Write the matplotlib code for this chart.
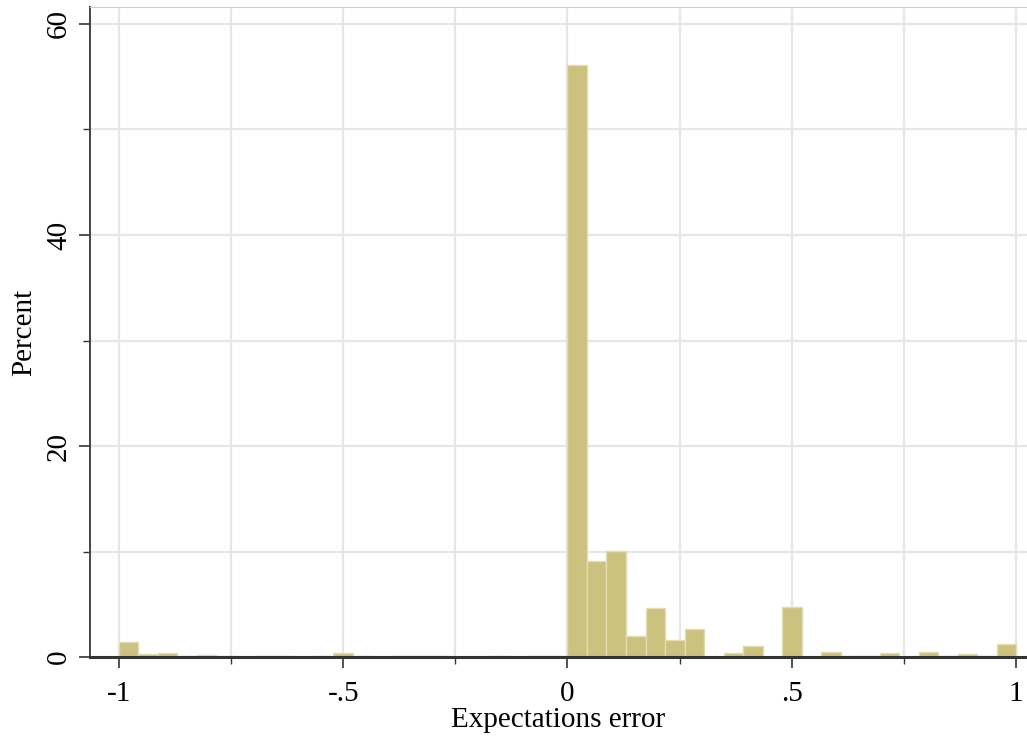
import numpy as np
import matplotlib
matplotlib.use("Agg")
import matplotlib.pyplot as plt
from matplotlib.ticker import MultipleLocator, FixedLocator

# histogram of expectations error, 46 bins over [-1, 1]
bin_lo = -1.0
bin_hi = 1.0
percent = [1.4, 0.25, 0.35, 0.1, 0.2, 0.1, 0.05, 0.15, 0.1, 0.0,
           0.1, 0.35, 0.1, 0.0, 0.1, 0.1, 0.1, 0.0, 0.0, 0.1,
           0.05, 0.1, 0.1, 56.1, 9.1, 10.1, 2.0, 4.7, 1.6, 2.7,
           0.0, 0.35, 1.05, 0.0, 4.75, 0.05, 0.5, 0.1, 0.1, 0.35,
           0.0, 0.5, 0.1, 0.3, 0.1, 1.2]
xticks = [-1, -0.5, 0, 0.5, 1]
xticklabels = ["-1", "-.5", "0", ".5", "1"]
yticks = [0, 20, 40, 60]

plt.rcParams['font.family'] = ['Liberation Serif', 'DejaVu Serif']

fig = plt.figure(figsize=(10.27, 7.40), dpi=100)
ax = fig.add_axes([0.0876, 0.112, 0.9124, 0.8785])

edges = np.linspace(bin_lo, bin_hi, len(percent) + 1)
ax.bar(edges[:-1], percent, width=np.diff(edges), align='edge',
       color='#cbc27f', edgecolor='#e2ddb0', linewidth=1.0, zorder=2)

ax.set_xlim(-1.0647, 1.0245)
ax.set_ylim(0, 61.6)

ax.xaxis.set_major_locator(FixedLocator(xticks))
ax.set_xticklabels(xticklabels)
ax.xaxis.set_minor_locator(MultipleLocator(0.25))
ax.yaxis.set_major_locator(FixedLocator(yticks))
ax.yaxis.set_minor_locator(MultipleLocator(10))
ax.set_yticklabels([str(v) for v in yticks], rotation=90, va='center')

ax.grid(True, which='both', color='#e6e6e6', linewidth=1.6, zorder=0)
ax.set_axisbelow(True)

ax.tick_params(axis='both', which='major', length=8, width=1.2,
               color='#333333', labelsize=21)
ax.tick_params(axis='x', which='major', pad=9)
ax.tick_params(axis='y', which='major', pad=5)
ax.tick_params(axis='both', which='minor', length=5, width=1.0,
               color='#333333')

ax.spines['right'].set_visible(False)
ax.spines['top'].set_color('#cccccc')
ax.spines['left'].set_color('#444444')
ax.spines['left'].set_linewidth(1.4)
ax.spines['bottom'].set_color('#333333')
ax.spines['bottom'].set_linewidth(2.2)
ax.spines['bottom'].set_zorder(3)

ax.set_xlabel('Expectations error', fontsize=21, labelpad=0)
ax.set_ylabel('Percent', fontsize=21, labelpad=6)

fig.savefig('out.png', dpi=100)
